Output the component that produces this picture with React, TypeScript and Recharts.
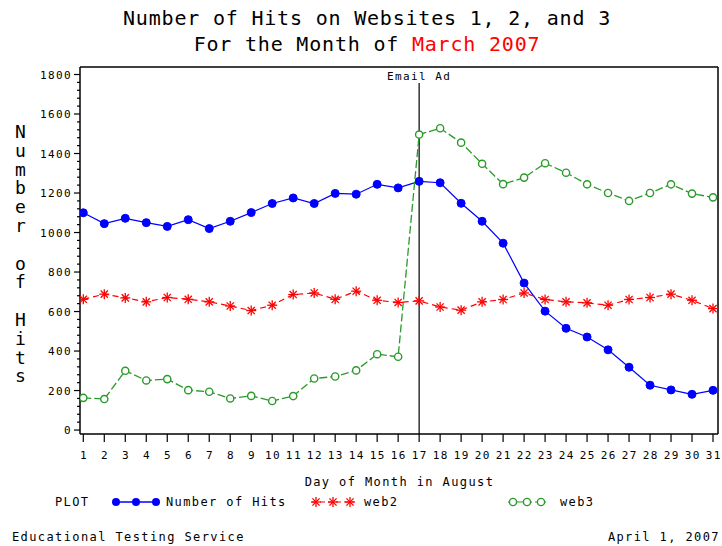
import React from 'react';
import { LineChart, Line, XAxis, YAxis, ReferenceLine } from 'recharts';

const days = [1, 2, 3, 4, 5, 6, 7, 8, 9, 10, 11, 12, 13, 14, 15, 16, 17, 18, 19, 20, 21, 22, 23, 24, 25, 26, 27, 28, 29, 30, 31];
const hits = [1100, 1045, 1072, 1050, 1031, 1065, 1020, 1057, 1101, 1147, 1175, 1147, 1198, 1194, 1244, 1226, 1259, 1252, 1148, 1057, 946, 744, 602, 515, 471, 406, 318, 227, 203, 181, 201];
const web2 = [662, 688, 669, 649, 671, 662, 649, 628, 605, 632, 686, 694, 662, 703, 657, 646, 654, 623, 607, 649, 661, 694, 661, 649, 644, 632, 661, 671, 688, 657, 615];
const web3 = [163, 157, 300, 251, 258, 202, 194, 160, 173, 147, 172, 261, 271, 302, 384, 371, 1496, 1528, 1455, 1348, 1245, 1278, 1351, 1303, 1244, 1200, 1160, 1200, 1244, 1197, 1178];

const yLabels = [0, 200, 400, 600, 800, 1000, 1200, 1400, 1600, 1800];
const yMinorStep = 40;
const emailAdDay = 17;

const data = days.map((d, i) => ({ day: d, hits: hits[i], web2: web2[i], web3: web3[i] }));
const yTicks: number[] = [];
for (let v = 0; v <= yLabels[yLabels.length - 1]; v += yMinorStep) yTicks.push(v);

const X_DOMAIN: [number, number] = [0.843, 31.238];
const Y_DOMAIN: [number, number] = [-20, 1838];

const MONO = "'DejaVu Sans Mono', monospace";
const BLUE = '#0000ff';
const RED = '#ff0000';
const GREEN = '#2a9a2a';

const YTick = (props: any) => {
  const { x, y, payload } = props;
  const major = yLabels.includes(payload.value);
  return (
    <g>
      <line x1={x - (major ? 6 : 3)} x2={x} y1={y} y2={y} stroke="#000" strokeWidth={1.2} />
      {major && (
        <text x={x - 8} y={y + 4} textAnchor="end" fontFamily={MONO} fontSize={11} letterSpacing={1.4} fill="#000">
          {payload.value}
        </text>
      )}
    </g>
  );
};

const XTick = (props: any) => {
  const { x, y, payload } = props;
  return (
    <g>
      <line x1={x} x2={x} y1={y} y2={y + 8} stroke="#000" strokeWidth={1.2} />
      <text x={x + 0.7} y={y + 25} textAnchor="middle" fontFamily={MONO} fontSize={11} letterSpacing={1.4} fill="#000">
        {payload.value}
      </text>
    </g>
  );
};

const Star = (props: any) => {
  const { cx, cy } = props;
  if (cx == null || cy == null) return null;
  const s = 5;
  const d = 3.6;
  return (
    <g stroke={RED} strokeWidth={1.3}>
      <line x1={cx - s} x2={cx + s} y1={cy} y2={cy} />
      <line x1={cx} x2={cx} y1={cy - s} y2={cy + s} />
      <line x1={cx - d} x2={cx + d} y1={cy - d} y2={cy + d} />
      <line x1={cx - d} x2={cx + d} y1={cy + d} y2={cy - d} />
    </g>
  );
};

export default function App() {
  return (
    <div style={{ position: 'absolute', left: 0, top: 0, width: 722, height: 546, overflow: 'hidden', background: '#fff', fontFamily: MONO, color: '#000' }}>
      <div style={{ position: 'absolute', left: 0, top: 5, width: 734, textAlign: 'center', fontSize: 20, lineHeight: '26px', letterSpacing: 0.8 }}>
        Number of Hits on Websites 1, 2, and 3
      </div>
      <div style={{ position: 'absolute', left: 0, top: 31, width: 734, textAlign: 'center', fontSize: 20, lineHeight: '26px', letterSpacing: 0.8 }}>
        For the Month of <span style={{ color: RED }}>March 2007</span>
      </div>

      <div
        style={{
          position: 'absolute',
          left: 10,
          top: 121,
          width: 20,
          fontSize: 18,
          lineHeight: '20px',
          writingMode: 'vertical-rl',
          textOrientation: 'upright',
          letterSpacing: -2.2,
          whiteSpace: 'nowrap',
        }}
      >
        Number of Hits
      </div>

      <div style={{ position: 'absolute', left: 0, top: 0 }}>
        <LineChart width={722} height={546} data={data} margin={{ top: 67, right: 4, bottom: 82, left: 0 }}>
          <XAxis
            dataKey="day"
            type="number"
            domain={X_DOMAIN}
            ticks={days}
            interval={0}
            tick={<XTick />}
            tickLine={false}
            tickSize={0}
            tickMargin={0}
            height={30}
            axisLine={{ stroke: '#000', strokeWidth: 1.5 }}
            allowDataOverflow
          />
          <YAxis
            type="number"
            domain={Y_DOMAIN}
            ticks={yTicks}
            interval={0}
            tick={<YTick />}
            tickLine={false}
            tickSize={0}
            tickMargin={0}
            width={80}
            axisLine={{ stroke: '#000', strokeWidth: 1.5 }}
            allowDataOverflow
          />
          <ReferenceLine y={Y_DOMAIN[1]} stroke="#000" strokeWidth={1.5} />
          <ReferenceLine x={X_DOMAIN[1]} stroke="#000" strokeWidth={1.5} />
          <ReferenceLine
            segment={[{ x: emailAdDay, y: Y_DOMAIN[0] }, { x: emailAdDay, y: 1757 }]}
            stroke="#000"
            strokeWidth={1.2}
            label={{ value: 'Email Ad', position: 'top', offset: 3, fontFamily: MONO, fontSize: 11, letterSpacing: 1.4, fill: '#000' }}
          />
          <Line
            dataKey="hits"
            stroke={BLUE}
            strokeWidth={1.2}
            dot={{ r: 4, fill: BLUE, stroke: BLUE, strokeWidth: 1 }}
            isAnimationActive={false}
          />
          <Line
            dataKey="web2"
            stroke={RED}
            strokeWidth={1.2}
            strokeDasharray="6 4"
            dot={<Star />}
            isAnimationActive={false}
          />
          <Line
            dataKey="web3"
            stroke={GREEN}
            strokeWidth={1.3}
            strokeDasharray="8 3"
            dot={{ r: 3.6, fill: '#fff', stroke: GREEN, strokeWidth: 1.4, strokeDasharray: '' }}
            isAnimationActive={false}
          />
        </LineChart>
      </div>

      <div style={{ position: 'absolute', left: 0, top: 474, width: 799, textAlign: 'center', fontSize: 12, lineHeight: '16px', letterSpacing: 1.4 }}>
        Day of Month in August
      </div>

      <div style={{ position: 'absolute', left: 0, top: 494, width: 722, height: 16, fontSize: 12, lineHeight: '16px', letterSpacing: 1.4 }}>
        <span style={{ position: 'absolute', left: 55 }}>PLOT</span>
        <svg style={{ position: 'absolute', left: 110, top: 0 }} width={52} height={16}>
          <line x1={4} x2={48} y1={8} y2={8} stroke={BLUE} strokeWidth={1.5} />
          {[6, 26, 46].map((cx) => <circle key={cx} cx={cx} cy={8} r={4} fill={BLUE} />)}
        </svg>
        <span style={{ position: 'absolute', left: 166 }}>Number of Hits</span>
        <svg style={{ position: 'absolute', left: 308, top: 0 }} width={50} height={16}>
          <line x1={4} x2={46} y1={8} y2={8} stroke={RED} strokeWidth={1.2} strokeDasharray="5 3" />
          {[8, 25, 42].map((cx) => <Star key={cx} cx={cx} cy={8} />)}
        </svg>
        <span style={{ position: 'absolute', left: 364 }}>web2</span>
        <svg style={{ position: 'absolute', left: 504, top: 0 }} width={46} height={16}>
          <line x1={4} x2={42} y1={8} y2={8} stroke={GREEN} strokeWidth={1.2} strokeDasharray="6 3" />
          {[9, 23, 37].map((cx) => <circle key={cx} cx={cx} cy={8} r={3.6} fill="#fff" stroke={GREEN} strokeWidth={1.4} />)}
        </svg>
        <span style={{ position: 'absolute', left: 560 }}>web3</span>
      </div>

      <div style={{ position: 'absolute', left: 12, top: 529, fontSize: 12, lineHeight: '16px', letterSpacing: 1.4 }}>
        Educational Testing Service
      </div>
      <div style={{ position: 'absolute', right: 2, top: 529, fontSize: 12, lineHeight: '16px', letterSpacing: 1.4 }}>
        April 1, 2007
      </div>
    </div>
  );
}
